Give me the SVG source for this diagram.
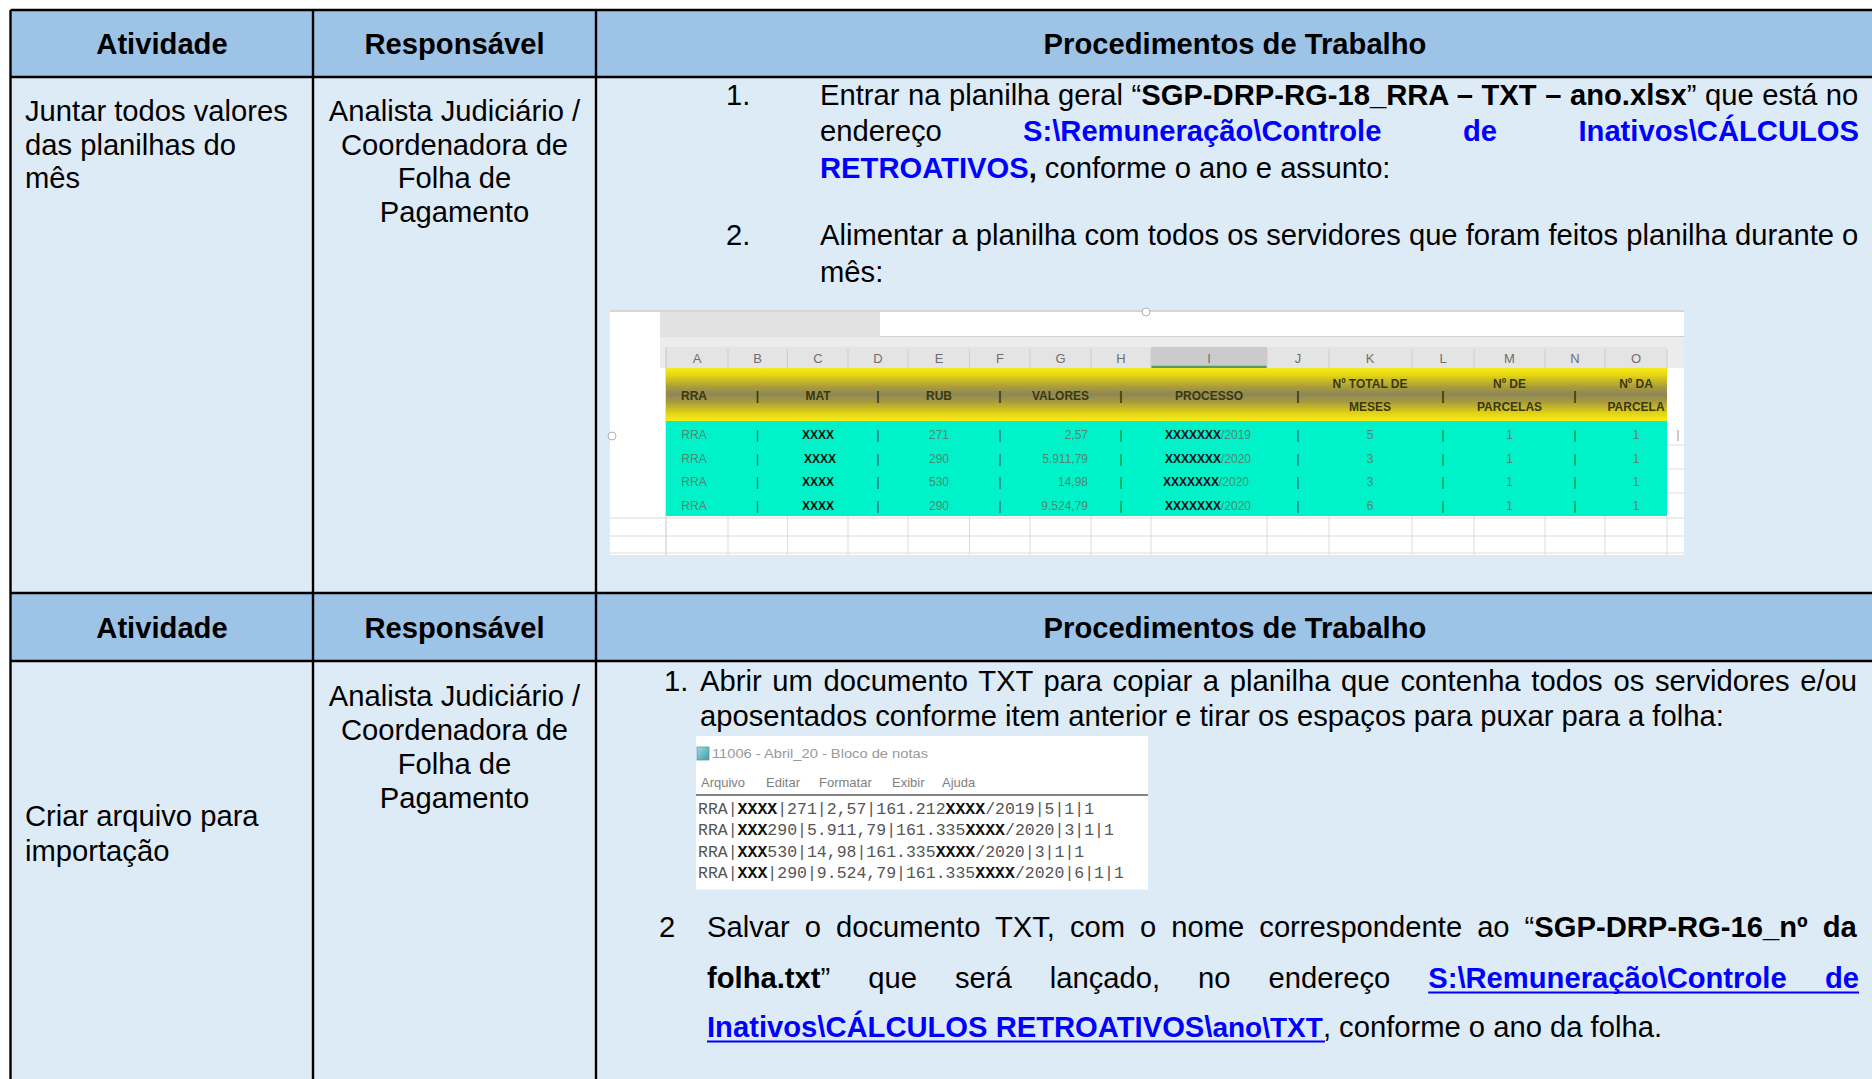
<svg xmlns="http://www.w3.org/2000/svg" width="1872" height="1079" viewBox="0 0 1872 1079">
  <defs>
    <linearGradient id="hdrGold" x1="0" y1="0" x2="0" y2="1">
      <stop offset="0" stop-color="#f6ec1c"/>
      <stop offset="0.14" stop-color="#e4d412"/>
      <stop offset="0.36" stop-color="#a89c3c"/>
      <stop offset="0.5" stop-color="#8e8656"/>
      <stop offset="0.64" stop-color="#a89c3c"/>
      <stop offset="0.86" stop-color="#e4d412"/>
      <stop offset="1" stop-color="#f6ec1c"/>
    </linearGradient>
    <linearGradient id="padIcon" x1="0" y1="0" x2="1" y2="1">
      <stop offset="0" stop-color="#9fdde0"/>
      <stop offset="1" stop-color="#3f9aa6"/>
    </linearGradient>
  </defs>
  <style>
    .t{font-family:"Liberation Sans",Arial,sans-serif;font-size:29.2px;fill:#000}
    .h{font-family:"Liberation Sans",Arial,sans-serif;font-size:29.2px;font-weight:bold;fill:#000;text-anchor:middle}
    .b{font-weight:bold}
    .lnk{font-weight:bold;fill:#0000ff}
    .mid{text-anchor:middle}
    .end{text-anchor:end}
    .grid{stroke:#000;stroke-width:2.4}
    .hdrfill{fill:#9dc3e6}
    .bodyfill{fill:#ddebf7}
    .xl{font-family:"Liberation Sans Narrow","Liberation Sans",Arial,sans-serif;font-size:12px;text-anchor:middle}
    .xcol{fill:#6e6e6e;font-size:13px}
    .xhd{fill:#3b3812;font-weight:bold}
    .xd{fill:#4d8a72}
    .xp{fill:#2e5e4e}
    .xx{fill:#111;font-weight:bold}
    .xg{stroke:#dcdcdc;stroke-width:1}
    .np{font-family:"Liberation Sans",Arial,sans-serif;font-size:13px;fill:#9a9a9a}
    .mono{font-family:"Liberation Mono","DejaVu Sans Mono",monospace;font-size:16.5px;fill:#555}
    .mx{fill:#111;font-weight:bold}
    .ul{stroke:#0000ff;stroke-width:2.2}
  </style>

  <rect width="1872" height="1079" fill="#fff"/>

  <!-- table cells -->
  <g id="table-fills">
    <rect class="hdrfill" x="10.5" y="10" width="1864" height="67"/>
    <rect class="bodyfill" x="10.5" y="77" width="1864" height="516"/>
    <rect class="hdrfill" x="10.5" y="593" width="1864" height="68"/>
    <rect class="bodyfill" x="10.5" y="661" width="1864" height="420"/>
  </g>

  <!-- table rules -->
  <g id="table-grid">
    <line class="grid" x1="10.5" y1="10" x2="1872" y2="10"/>
    <line class="grid" x1="10.5" y1="77" x2="1872" y2="77"/>
    <line class="grid" x1="10.5" y1="593" x2="1872" y2="593"/>
    <line class="grid" x1="10.5" y1="661" x2="1872" y2="661"/>
    <line class="grid" x1="10.5" y1="10" x2="10.5" y2="1079"/>
    <line class="grid" x1="313" y1="10" x2="313" y2="1079"/>
    <line class="grid" x1="596" y1="10" x2="596" y2="1079"/>
  </g>

  <!-- header rows -->
  <g id="header-1">
    <text class="h" x="162" y="54">Atividade</text>
    <text class="h" x="454.5" y="54">Responsável</text>
    <text class="h" x="1235" y="54">Procedimentos de Trabalho</text>
  </g>
  <g id="header-2">
    <text class="h" x="162" y="638">Atividade</text>
    <text class="h" x="454.5" y="638">Responsável</text>
    <text class="h" x="1235" y="638">Procedimentos de Trabalho</text>
  </g>

  <!-- row 1 -->
  <g id="row1-atividade">
    <text class="t" x="25" y="121">Juntar todos valores</text>
    <text class="t" x="25" y="154.5">das planilhas do</text>
    <text class="t" x="25" y="188">mês</text>
  </g>
  <g id="row1-responsavel">
    <text class="t mid" x="454.5" y="121">Analista Judiciário /</text>
    <text class="t mid" x="454.5" y="154.5">Coordenadora de</text>
    <text class="t mid" x="454.5" y="188">Folha de</text>
    <text class="t mid" x="454.5" y="221.5">Pagamento</text>
  </g>
  <g id="row1-procedimentos">
    <text class="t" x="726" y="105">1.</text>
    <text class="t" x="820" y="105" word-spacing="0.4">Entrar na planilha geral “<tspan class="b">SGP-DRP-RG-18_RRA – TXT – ano.xlsx</tspan>” que está no</text>
    <text class="t" x="820" y="141">endereço</text>
    <text class="t lnk" x="1023" y="141">S:\Remuneração\Controle</text>
    <text class="t lnk" x="1463" y="141">de</text>
    <text class="t lnk end" x="1859" y="141">Inativos\CÁLCULOS</text>
    <text class="t" x="820" y="177.5"><tspan class="lnk">RETROATIVOS</tspan><tspan class="b">,</tspan> conforme o ano e assunto:</text>
    <text class="t" x="726" y="245">2.</text>
    <text class="t" x="820" y="245">Alimentar a planilha com todos os servidores que foram feitos planilha durante o</text>
    <text class="t" x="820" y="281.5">mês:</text>
  </g>

  <!-- spreadsheet screenshot -->
  <g id="planilha-rra">
    <rect x="610" y="310" width="1074" height="245" fill="#fff"/>
    <line x1="610" y1="311" x2="1684" y2="311" stroke="#c8c8c8" stroke-width="1.5"/>
    <rect x="660" y="312" width="220" height="25" fill="#e2e2e2"/>
    <line x1="880" y1="336.5" x2="1684" y2="336.5" stroke="#cfcfcf"/>
    <rect x="660" y="337" width="1024" height="31" fill="#ececec"/>
    <rect x="666" y="347" width="1001" height="21" fill="#e4e4e4"/>
    <rect x="1151" y="347" width="116" height="21" fill="#cbcbcb"/>
    <line x1="1151" y1="367" x2="1267" y2="367" stroke="#5a9a62" stroke-width="2.5"/>
    <g stroke="#cdcdcd">
      <line x1="728" y1="349" x2="728" y2="368"/><line x1="787.5" y1="349" x2="787.5" y2="368"/>
      <line x1="848" y1="349" x2="848" y2="368"/><line x1="908" y1="349" x2="908" y2="368"/>
      <line x1="969.5" y1="349" x2="969.5" y2="368"/><line x1="1030" y1="349" x2="1030" y2="368"/>
      <line x1="1091" y1="349" x2="1091" y2="368"/><line x1="1151" y1="349" x2="1151" y2="368"/>
      <line x1="1267" y1="349" x2="1267" y2="368"/><line x1="1329" y1="349" x2="1329" y2="368"/>
      <line x1="1412" y1="349" x2="1412" y2="368"/><line x1="1474" y1="349" x2="1474" y2="368"/>
      <line x1="1545" y1="349" x2="1545" y2="368"/><line x1="1605" y1="349" x2="1605" y2="368"/>
      <line x1="1667" y1="349" x2="1667" y2="368"/>
    </g>
    <g class="xl xcol">
      <text x="697" y="363">A</text><text x="757.5" y="363">B</text><text x="818" y="363">C</text>
      <text x="878" y="363">D</text><text x="939" y="363">E</text><text x="1000" y="363">F</text>
      <text x="1060.5" y="363">G</text><text x="1121" y="363">H</text><text x="1209" y="363">I</text>
      <text x="1298" y="363">J</text><text x="1370" y="363">K</text><text x="1443" y="363">L</text>
      <text x="1509.5" y="363">M</text><text x="1575" y="363">N</text><text x="1636" y="363">O</text>
    </g>
    <line x1="666" y1="347" x2="666" y2="555" stroke="#c6c6c6"/>
    <rect x="666" y="368" width="1001" height="53" fill="url(#hdrGold)"/>
    <rect x="666" y="421" width="1001" height="95" fill="#00f2c9"/>
    <g class="xg">
      <line x1="610" y1="518" x2="1684" y2="518"/>
      <line x1="610" y1="536" x2="1684" y2="536"/>
      <line x1="610" y1="553" x2="1684" y2="553"/>
      <line x1="1667" y1="445" x2="1684" y2="445"/>
      <line x1="1667" y1="469" x2="1684" y2="469"/>
      <line x1="1667" y1="493" x2="1684" y2="493"/>
      <line x1="728" y1="516" x2="728" y2="555"/><line x1="787.5" y1="516" x2="787.5" y2="555"/>
      <line x1="848" y1="516" x2="848" y2="555"/><line x1="908" y1="516" x2="908" y2="555"/>
      <line x1="969.5" y1="516" x2="969.5" y2="555"/><line x1="1030" y1="516" x2="1030" y2="555"/>
      <line x1="1091" y1="516" x2="1091" y2="555"/><line x1="1151" y1="516" x2="1151" y2="555"/>
      <line x1="1267" y1="516" x2="1267" y2="555"/><line x1="1329" y1="516" x2="1329" y2="555"/>
      <line x1="1412" y1="516" x2="1412" y2="555"/><line x1="1474" y1="516" x2="1474" y2="555"/>
      <line x1="1545" y1="516" x2="1545" y2="555"/><line x1="1605" y1="516" x2="1605" y2="555"/>
      <line x1="1667" y1="516" x2="1667" y2="555"/>
    </g>
    <circle cx="612" cy="436" r="4" fill="#fff" stroke="#b0b0b0"/>
    <circle cx="1146" cy="312" r="4" fill="#fff" stroke="#b0b0b0"/>
    <line x1="1678" y1="430" x2="1678" y2="441" stroke="#999"/>

    <!-- header labels -->
    <g class="xl xhd">
      <text x="694" y="399.5">RRA</text>
      <text x="757.5" y="399.5">|</text>
      <text x="818" y="399.5">MAT</text>
      <text x="878" y="399.5">|</text>
      <text x="939" y="399.5">RUB</text>
      <text x="1000" y="399.5">|</text>
      <text x="1060.5" y="399.5">VALORES</text>
      <text x="1121" y="399.5">|</text>
      <text x="1209" y="399.5">PROCESSO</text>
      <text x="1298" y="399.5">|</text>
      <text x="1370" y="388">Nº TOTAL DE</text>
      <text x="1370" y="410.5">MESES</text>
      <text x="1443" y="399.5">|</text>
      <text x="1509.5" y="388">Nº DE</text>
      <text x="1509.5" y="410.5">PARCELAS</text>
      <text x="1575" y="399.5">|</text>
      <text x="1636" y="388">Nº DA</text>
      <text x="1636" y="410.5">PARCELA</text>
    </g>

    <!-- data rows -->
    <g class="xl">
      <g class="xd">
        <text x="694" y="439">RRA</text><text x="694" y="462.5">RRA</text>
        <text x="694" y="486">RRA</text><text x="694" y="509.5">RRA</text>
        <text x="939" y="439">271</text><text x="939" y="462.5">290</text>
        <text x="939" y="486">530</text><text x="939" y="509.5">290</text>
        <text x="1088" y="439" text-anchor="end">2,57</text>
        <text x="1088" y="462.5" text-anchor="end">5.911,79</text>
        <text x="1088" y="486" text-anchor="end">14,98</text>
        <text x="1088" y="509.5" text-anchor="end">9.524,79</text>
        <text x="1208" y="439"><tspan class="xx">XXXXXXX</tspan>/2019</text>
        <text x="1208" y="462.5"><tspan class="xx">XXXXXXX</tspan>/2020</text>
        <text x="1206" y="486"><tspan class="xx">XXXXXXX</tspan>/2020</text>
        <text x="1208" y="509.5"><tspan class="xx">XXXXXXX</tspan>/2020</text>
        <text x="1370" y="439">5</text><text x="1370" y="462.5">3</text>
        <text x="1370" y="486">3</text><text x="1370" y="509.5">6</text>
        <text x="1509.5" y="439">1</text><text x="1509.5" y="462.5">1</text>
        <text x="1509.5" y="486">1</text><text x="1509.5" y="509.5">1</text>
        <text x="1636" y="439">1</text><text x="1636" y="462.5">1</text>
        <text x="1636" y="486">1</text><text x="1636" y="509.5">1</text>
      </g>
      <g class="xx">
        <text x="818" y="439">XXXX</text><text x="820" y="462.5">XXXX</text>
        <text x="818" y="486">XXXX</text><text x="818" y="509.5">XXXX</text>
      </g>
      <g class="xp">
        <text x="757.5" y="439">|</text><text x="878" y="439">|</text><text x="1000" y="439">|</text><text x="1121" y="439">|</text>
        <text x="1298" y="439">|</text><text x="1443" y="439">|</text><text x="1575" y="439">|</text>
        <text x="757.5" y="462.5">|</text><text x="878" y="462.5">|</text><text x="1000" y="462.5">|</text><text x="1121" y="462.5">|</text>
        <text x="1298" y="462.5">|</text><text x="1443" y="462.5">|</text><text x="1575" y="462.5">|</text>
        <text x="757.5" y="486">|</text><text x="878" y="486">|</text><text x="1000" y="486">|</text><text x="1121" y="486">|</text>
        <text x="1298" y="486">|</text><text x="1443" y="486">|</text><text x="1575" y="486">|</text>
        <text x="757.5" y="509.5">|</text><text x="878" y="509.5">|</text><text x="1000" y="509.5">|</text><text x="1121" y="509.5">|</text>
        <text x="1298" y="509.5">|</text><text x="1443" y="509.5">|</text><text x="1575" y="509.5">|</text>
      </g>
    </g>
  </g>

  <!-- row 2 -->
  <g id="row2-atividade">
    <text class="t" x="25" y="826">Criar arquivo para</text>
    <text class="t" x="25" y="861">importação</text>
  </g>
  <g id="row2-responsavel">
    <text class="t mid" x="454.5" y="706">Analista Judiciário /</text>
    <text class="t mid" x="454.5" y="740">Coordenadora de</text>
    <text class="t mid" x="454.5" y="774">Folha de</text>
    <text class="t mid" x="454.5" y="807.5">Pagamento</text>
  </g>
  <g id="row2-procedimentos">
    <text class="t" x="664" y="691">1.</text>
    <text class="t" x="700" y="691" word-spacing="2.6">Abrir um documento TXT para copiar a planilha que contenha todos os servidores e/ou</text>
    <text class="t" x="700" y="726">aposentados conforme item anterior e tirar os espaços para puxar para a folha:</text>

    <text class="t" x="659" y="937">2</text>
    <text class="t" x="707" y="937" word-spacing="6.9">Salvar o documento TXT, com o nome correspondente ao “<tspan class="b">SGP-DRP-RG-16_nº da</tspan></text>
    <text class="t" y="988"><tspan x="707"><tspan class="b">folha.txt</tspan>”</tspan><tspan x="868.3">que</tspan><tspan x="955">será</tspan><tspan x="1049.8">lançado,</tspan><tspan x="1198">no</tspan><tspan x="1268.5">endereço</tspan><tspan class="lnk" x="1428.2">S:\Remuneração\Controle</tspan></text>
    <text class="t lnk end" x="1859" y="988">de</text>
    <line class="ul" x1="1428.2" y1="992.5" x2="1859" y2="992.5"/>
    <text class="t" x="707" y="1037"><tspan class="lnk">Inativos\CÁLCULOS RETROATIVOS\<tspan font-size="28">ano\TXT</tspan></tspan>, conforme o ano da folha.</text>
    <line class="ul" x1="707" y1="1041.5" x2="1325" y2="1041.5"/>
  </g>

  <!-- notepad screenshot -->
  <g id="bloco-de-notas">
    <rect x="696" y="736" width="452" height="153.5" fill="#fff"/>
    <rect x="697" y="747" width="12" height="13" fill="url(#padIcon)" stroke="#5a9aa4" stroke-width="0.8"/>
    <text class="np" x="712" y="758" textLength="216" lengthAdjust="spacingAndGlyphs">11006 - Abril_20 - Bloco de notas</text>
    <g class="np" style="fill:#808080">
      <text x="701" y="787">Arquivo</text>
      <text x="766" y="787">Editar</text>
      <text x="819" y="787">Formatar</text>
      <text x="892" y="787">Exibir</text>
      <text x="942" y="787">Ajuda</text>
    </g>
    <line x1="696" y1="795" x2="1148" y2="795" stroke="#5a5a5a" stroke-width="1.6"/>
    <text class="mono" x="698" y="813.5">RRA|<tspan class="mx">XXXX</tspan>|271|2,57|161.212<tspan class="mx">XXXX</tspan>/2019|5|1|1</text>
    <text class="mono" x="698" y="835">RRA|<tspan class="mx">XXX</tspan>290|5.911,79|161.335<tspan class="mx">XXXX</tspan>/2020|3|1|1</text>
    <text class="mono" x="698" y="856.5">RRA|<tspan class="mx">XXX</tspan>530|14,98|161.335<tspan class="mx">XXXX</tspan>/2020|3|1|1</text>
    <text class="mono" x="698" y="878">RRA|<tspan class="mx">XXX</tspan>|290|9.524,79|161.335<tspan class="mx">XXXX</tspan>/2020|6|1|1</text>
  </g>
</svg>
